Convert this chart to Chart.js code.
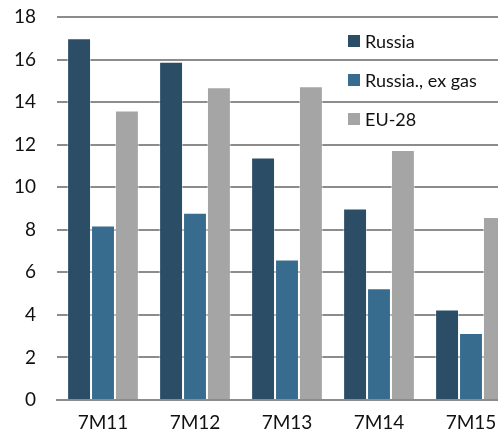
<!DOCTYPE html>
<html>
<head>
<meta charset="utf-8">
<script src="https://cdn.jsdelivr.net/npm/chart.js@4.4.1/dist/chart.umd.min.js"></script>
<style>
  html, body { margin: 0; padding: 0; background: #fff; }
  #wrap { width: 498px; height: 438px; overflow: hidden; position: relative; }
  #box { width: 520px; height: 438px; }
</style>
</head>
<body>
<div id="wrap"><div id="box"><canvas id="myChart"></canvas></div></div>
<script>
const periods = ['7M11', '7M12', '7M13', '7M14', '7M15'];
const russia = [17.0, 15.9, 11.4, 9.0, 4.25];
const russiaExGas = [8.2, 8.8, 6.6, 5.25, 3.15];
const eu28 = [13.6, 14.7, 14.75, 11.75, 8.6];
const yTicks = [0, 2, 4, 6, 8, 10, 12, 14, 16, 18];

const FONT = 'Lato, "Open Sans", sans-serif';

// legend drawn inside the plot, top right
const boxLegend = {
  id: 'boxLegend',
  afterDraw(chart) {
    const ctx = chart.ctx;
    ctx.save();
    ctx.font = '18px ' + FONT;
    ctx.textBaseline = 'middle';
    chart.data.datasets.forEach((ds, i) => {
      const y = 41 + i * 39;
      ctx.fillStyle = ds.backgroundColor;
      ctx.fillRect(348, y - 6, 12, 12);
      ctx.fillStyle = '#111';
      ctx.fillText(ds.label, 365, y + 1);
    });
    ctx.restore();
  }
};

new Chart('myChart', {
  type: 'bar',
  data: {
    labels: periods,
    datasets: [
      { label: 'Russia', data: russia, backgroundColor: '#2b4d66' },
      { label: 'Russia., ex gas', data: russiaExGas, backgroundColor: '#386c8e' },
      { label: 'EU-28', data: eu28, backgroundColor: '#a5a5a5' }
    ]
  },
  options: {
    responsive: true,
    maintainAspectRatio: false,
    animation: false,
    layout: { padding: { top: 17, right: 3, left: 0, bottom: 0 } },
    datasets: {
      bar: {
        categoryPercentage: 0.78,
        barPercentage: 1,
        borderWidth: 1,
        borderColor: 'rgba(255,255,255,0.45)'
      }
    },
    plugins: {
      legend: { display: false },
      tooltip: { enabled: false }
    },
    scales: {
      x: {
        grid: { display: false },
        border: { display: true, color: '#8c8c8c', width: 2 },
        ticks: { color: '#111', font: { family: FONT, size: 19 }, padding: 3 },
        afterFit(s) { s.height = 38; }
      },
      y: {
        min: yTicks[0],
        max: yTicks[yTicks.length - 1],
        grid: { color: '#8c8c8c', lineWidth: 2, drawTicks: false },
        border: { display: false },
        ticks: { stepSize: yTicks[1] - yTicks[0], color: '#111', font: { family: FONT, size: 19 }, padding: 21 },
        afterFit(s) { s.width = 57; s.paddingTop = 10; }
      }
    }
  },
  plugins: [boxLegend]
});
</script>
</body>
</html>
